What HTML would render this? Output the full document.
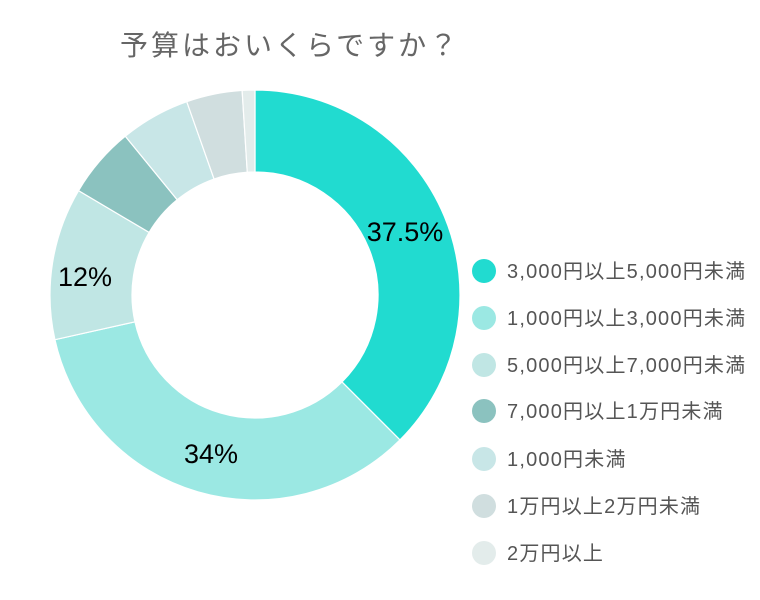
<!DOCTYPE html>
<html><head><meta charset="utf-8"><style>body{margin:0;background:#fff}svg{display:block}</style></head><body>
<svg width="760" height="600" xmlns="http://www.w3.org/2000/svg" font-family="Liberation Sans, Noto Sans CJK JP, sans-serif">
<rect width="760" height="600" fill="#fff"/>
<text x="120" y="55" font-size="28" fill="#666" letter-spacing="3">予算はおいくらですか？</text>
<g stroke="#fff" stroke-width="1.2">
<path fill="#21dbd0" d="M255 90 A205 205 0 0 1 399.96 439.96 L341.97 381.97 A123 123 0 0 0 255 172 Z"/>
<path fill="#9be8e3" d="M399.96 439.96 A205 205 0 0 1 54.94 339.72 L134.96 321.83 A123 123 0 0 0 341.97 381.97 Z"/>
<path fill="#c0e6e4" d="M54.94 339.72 A205 205 0 0 1 78.55 190.65 L149.13 232.39 A123 123 0 0 0 134.96 321.83 Z"/>
<path fill="#8bc2bf" d="M78.55 190.65 A205 205 0 0 1 125.33 136.22 L177.20 199.73 A123 123 0 0 0 149.13 232.39 Z"/>
<path fill="#c8e6e7" d="M125.33 136.22 A205 205 0 0 1 186.77 101.69 L214.06 179.01 A123 123 0 0 0 177.20 199.73 Z"/>
<path fill="#d0dedf" d="M186.77 101.69 A205 205 0 0 1 242.13 90.40 L247.28 172.24 A123 123 0 0 0 214.06 179.01 Z"/>
<path fill="#e3eceb" d="M242.13 90.40 A205 205 0 0 1 255 90 L255 172 A123 123 0 0 0 247.28 172.24 Z"/>
</g>
<g font-size="27" fill="#000" text-anchor="middle">
<text x="405" y="241">37.5%</text>
<text x="85" y="286">12%</text>
<text x="211" y="463">34%</text>
</g>
<g font-size="20" fill="#555" letter-spacing="1.2">
<circle cx="484" cy="271" r="12" fill="#21dbd0"/><text x="507" y="278">3,000円以上5,000円未満</text>
<circle cx="484" cy="318" r="12" fill="#9be8e3"/><text x="507" y="325">1,000円以上3,000円未満</text>
<circle cx="484" cy="365" r="12" fill="#c0e6e4"/><text x="507" y="372">5,000円以上7,000円未満</text>
<circle cx="484" cy="411" r="12" fill="#8bc2bf"/><text x="507" y="418">7,000円以上1万円未満</text>
<circle cx="484" cy="459" r="12" fill="#c8e6e7"/><text x="507" y="466">1,000円未満</text>
<circle cx="484" cy="506" r="12" fill="#d0dedf"/><text x="507" y="513">1万円以上2万円未満</text>
<circle cx="484" cy="553" r="12" fill="#e3eceb"/><text x="507" y="560">2万円以上</text>
</g>
</svg>
</body></html>
